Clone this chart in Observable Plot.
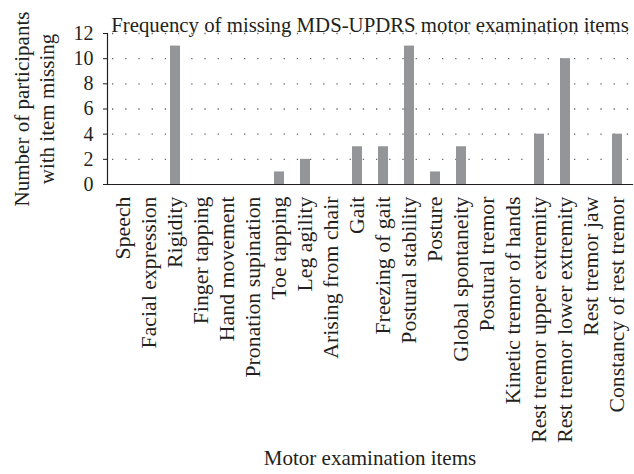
<!DOCTYPE html>
<html><head><meta charset="utf-8">
<script src="https://cdn.jsdelivr.net/npm/d3@7"></script>
<script src="https://cdn.jsdelivr.net/npm/@observablehq/plot@0.6"></script>
<style>
body{margin:0;background:#fff}
#chart svg{font-family:"Liberation Serif","DejaVu Serif",serif;color:#231f20;background:#fff}
</style>
</head><body><div id="chart"></div>
<script>
const items = ["Speech","Facial expression","Rigidity","Finger tapping","Hand movement","Pronation supination","Toe tapping","Leg agility","Arising from chair","Gait","Freezing of gait","Postural stability","Posture","Global spontaneity","Postural tremor","Kinetic tremor of hands","Rest tremor upper extremity","Rest tremor lower extremity","Rest tremor jaw","Constancy of rest tremor"];
const counts = [0,0,11,0,0,0,1,2,0,3,3,11,1,3,0,0,4,10,0,4];
const yTicks = [0,2,4,6,8,10,12];
const title = "Frequency of missing MDS-UPDRS motor examination items";
const yLabel = ["Number of participants","with item missing"];
const xLabel = "Motor examination items";

const data = items.map((item, i) => ({item, count: counts[i]}));

const W = 634, H = 474, mL = 107, mR = 2, mT = 33, mB = 290;
const serif = "'Liberation Serif', 'DejaVu Serif', serif";

function boundaryTicks(len) {
  return {
    render(index, scales, values, dims) {
      const n = items.length;
      const step = (dims.width - dims.marginLeft - dims.marginRight) / n;
      const y0 = dims.height - dims.marginBottom;
      const g = d3.create("svg:g").attr("stroke", "#231f20").attr("stroke-width", 1);
      for (let i = 1; i < n; i++) {
        const x = dims.marginLeft + i * step;
        g.append("line").attr("x1", x).attr("x2", x).attr("y1", y0).attr("y2", y0 + len);
      }
      return g.node();
    }
  };
}

const chart = Plot.plot({
  width: W, height: H,
  marginLeft: mL, marginRight: mR, marginTop: mT, marginBottom: mB,
  style: {fontFamily: serif, background: "#fff"},
  x: {domain: items, paddingInner: 0.62, paddingOuter: 0.31},
  y: {domain: [0, 12]},
  marks: [
    Plot.ruleY(yTicks.filter(d => d > 0), {stroke: "#666", strokeWidth: 1.3, strokeDasharray: "1.3,11.9", dx: 5}),
    Plot.barY(data, {x: "item", y: "count", fill: "#939598"}),
    Plot.frame({anchor: "bottom", stroke: "#231f20", strokeWidth: 1.2}),
    Plot.frame({anchor: "left", stroke: "#231f20", strokeWidth: 1.2}),
    Plot.axisY({ticks: yTicks, tickSize: 4, tickPadding: 10, fontSize: 20, fontFamily: serif, tickFormat: d => d, label: null, stroke: "#231f20", fill: "#231f20"}),
    Plot.axisX({tickSize: 0, tickRotate: -90, tickPadding: 12, fontSize: 21.8, fontFamily: serif, label: null, fill: "#231f20"}),
    Plot.ruleX([0], boundaryTicks(5)),
    Plot.text([title], {frameAnchor: "top", dy: -16, fontSize: 20.8, fontFamily: serif, fill: "#231f20"}),
    Plot.text([yLabel.join("\n")], {frameAnchor: "left", textAnchor: "middle", rotate: -90, dx: -74, lineHeight: 1.2, fontSize: 21, fontFamily: serif, fill: "#231f20"}),
    Plot.text([xLabel], {frameAnchor: "bottom", dy: 280, fontSize: 21, fontFamily: serif, fill: "#231f20"})
  ]
});
document.getElementById("chart").appendChild(chart);
</script>
</body></html>
